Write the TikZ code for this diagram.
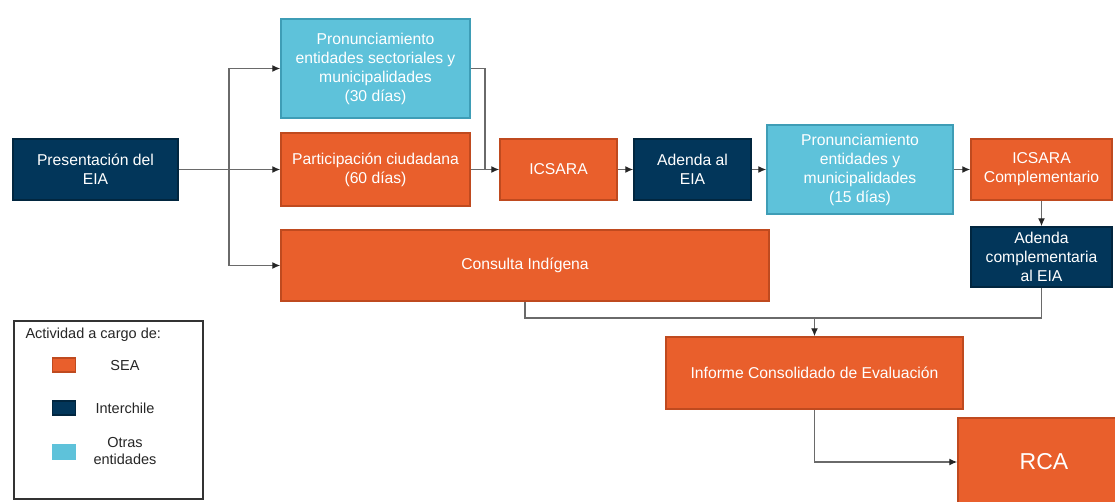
\documentclass[tikz,border=0pt]{standalone}
\usepackage{fontspec}
\setmainfont{Liberation Sans}
\usetikzlibrary{arrows.meta}
\definecolor{seaorange}{HTML}{E95F2C}
\definecolor{seaedge}{HTML}{BF4A1F}
\definecolor{icnavy}{HTML}{02365A}
\definecolor{icedge}{HTML}{01263F}
\definecolor{otblue}{HTML}{5EC2DA}
\definecolor{otedge}{HTML}{3E9DB6}
\definecolor{connclr}{HTML}{6A6A6A}
\begin{document}
\begin{tikzpicture}[x=1pt,y=-1pt,
  box/.style={draw,line width=1.5pt,text=white,align=center,inner sep=0pt,
    font=\fontsize{15.7}{19}\selectfont},
  sea/.style={box,fill=seaorange,draw=seaedge},
  inter/.style={box,fill=icnavy,draw=icedge},
  otras/.style={box,fill=otblue,draw=otedge},
  line/.style={draw=connclr,line width=1.3pt},
  conn/.style={line,-{Latex[length=8pt,width=7pt,color=black!85]}},
  swatch/.style={draw,line width=1.2pt,minimum width=23pt,minimum height=14pt,inner sep=0pt},
  legtext/.style={align=center,font=\fontsize{14.5}{17.5}\selectfont,text=black!85}]
\useasboundingbox (0,0) rectangle (1115,501);
\node[inter,minimum width=165pt,minimum height=61pt] (pres) at (95.5,169.5) {Presentación del\\EIA};
\node[otras,minimum width=189pt,minimum height=99pt] (pron1) at (375.5,68.5) {Pronunciamiento\\entidades sectoriales y\\municipalidades\\(30 días)};
\node[sea,minimum width=189pt,minimum height=73pt] (part) at (375.5,169.5) {Participación ciudadana\\(60 días)};
\node[sea,minimum width=488pt,minimum height=71pt] (consulta) at (525,265.5) {Consulta Indígena};
\node[sea,minimum width=117pt,minimum height=61pt] (icsara) at (558.5,169.5) {ICSARA};
\node[inter,minimum width=117pt,minimum height=61pt] (adenda) at (692.5,169.5) {Adenda al\\EIA};
\node[otras,minimum width=186pt,minimum height=89pt] (pron2) at (860,169.5) {Pronunciamiento\\entidades y\\municipalidades\\(15 días)};
\node[sea,minimum width=141pt,minimum height=61pt] (icsarac) at (1041.5,169.5) {ICSARA\\Complementario};
\node[inter,minimum width=141pt,minimum height=60pt] (adendac) at (1041.5,257) {Adenda\\complementaria\\al EIA};
\node[sea,minimum width=297pt,minimum height=72pt] (informe) at (814.5,373) {Informe Consolidado de Evaluación};
\node[sea,minimum width=172pt,minimum height=88pt,font=\fontsize{23}{27}\selectfont] (rca) at (1044,462) {RCA};
\coordinate (split) at (229,169.5);
\coordinate (jn1) at (485,169.5);
\coordinate (mrg) at (814.5,318);
\draw[conn] (pres.east) -- (part.west);
\draw[conn] (split) |- (pron1.west);
\draw[conn] (split) |- (consulta.west);
\draw[line] (pron1.east) -| (jn1);
\draw[conn] (part.east) -- (icsara.west);
\draw[conn] (icsara) -- (adenda);
\draw[conn] (adenda) -- (pron2);
\draw[conn] (pron2) -- (icsarac);
\draw[conn] (icsarac) -- (adendac);
\draw[line] (consulta.south) |- (mrg);
\draw[line] (adendac.south) |- (mrg);
\draw[conn] (mrg) -- (informe.north);
\draw[conn] (informe.south) |- (rca.west);
\draw[draw=black!80,line width=2pt] (14,321) rectangle (203,499);
\node[legtext,anchor=west] (legtitle) at (22,335) {Actividad a cargo de:};
\node[swatch,fill=seaorange,draw=seaedge] (swsea) at (64,365) {};
\node[legtext] (lgsea) at (125,366) {SEA};
\node[swatch,fill=icnavy,draw=icedge] (swinter) at (64,408) {};
\node[legtext] (lginter) at (125,408) {Interchile};
\node[swatch,fill=otblue,draw=otblue] (swotras) at (64,452) {};
\node[legtext] (lgotras) at (125,451) {Otras\\entidades};
\end{tikzpicture}
\end{document}
